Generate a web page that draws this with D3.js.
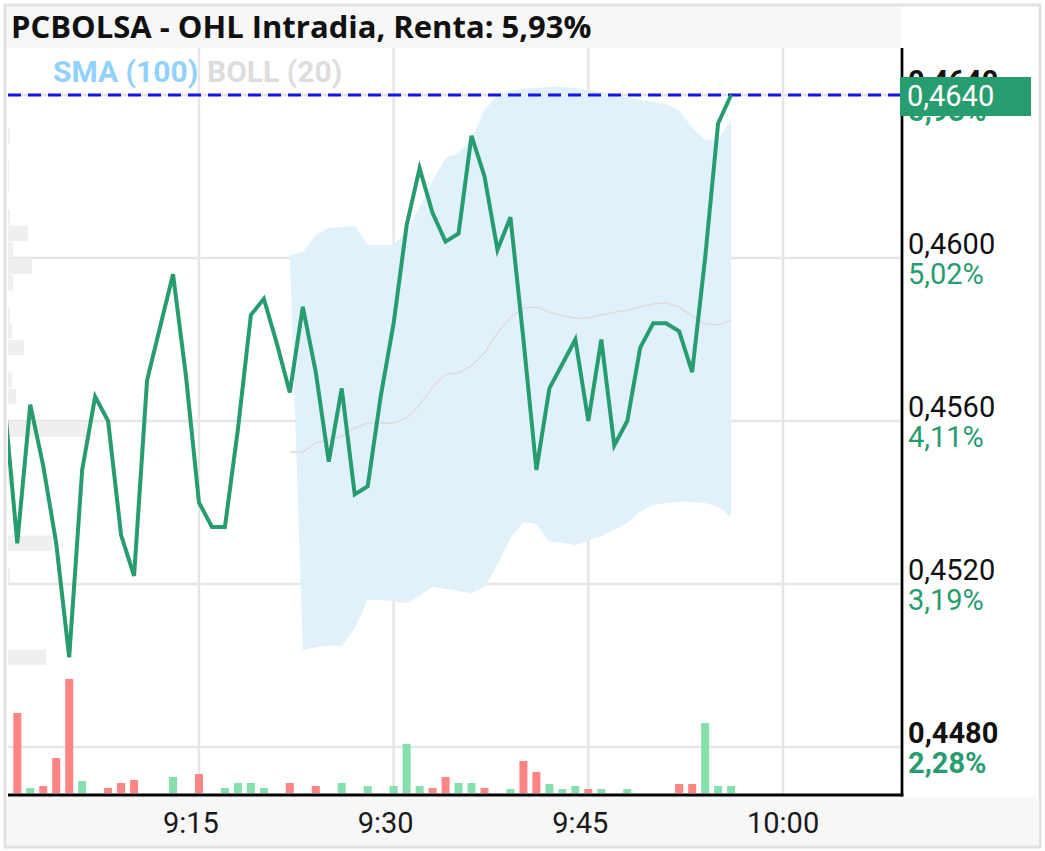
<!DOCTYPE html>
<html>
<head>
<meta charset="utf-8">
<script src="https://cdn.jsdelivr.net/npm/d3@7"></script>
<style>
  body { margin: 0; background: #fff; }
  text { font-family: Roboto, "Noto Sans", sans-serif; }
</style>
</head>
<body>
<div id="chart"></div>
<script>
const title = "PCBOLSA - OHL Intradia, Renta: 5,93%";

// one point per minute, starting 9:00
const startTime = "9:00";
const prices = [0.4565, 0.4530, 0.4564, 0.4549, 0.4530, 0.4502, 0.4548, 0.4566, 0.4560, 0.4532,
                0.4522, 0.4570, 0.4583, 0.4596, 0.4571, 0.4540, 0.4534, 0.4534, 0.4558, 0.4586,
                0.4590, 0.4579, 0.4567, 0.4588, 0.4572, 0.4550, 0.4568, 0.4542, 0.4544, 0.4566,
                0.4584, 0.4608, 0.4622, 0.4611, 0.4604, 0.4606, 0.4630, 0.4620, 0.4602, 0.4610,
                0.4580, 0.4548, 0.4568, 0.4574, 0.4580, 0.4560, 0.4580, 0.4554, 0.4560, 0.4578,
                0.4584, 0.4584, 0.4582, 0.4572, 0.4600, 0.4633, 0.4640];
const volumes = [0, 80000, 5000, 7000, 35000, 114000, 12000, 0, 5000, 10000,
                 13000, 0, 0, 16000, 0, 19000, 0, 5000, 10000, 10000,
                 5000, 0, 10000, 0, 7000, 0, 10000, 0, 7000, 0,
                 7000, 49000, 7000, 5000, 16000, 10000, 10000, 5000, 0, 4000,
                 32000, 21000, 9000, 4000, 7000, 4000, 4000, 0, 4000, 0,
                 0, 0, 9000, 9000, 70000, 7000, 7000];

// bollinger bands: upper / middle from 9:22, lower from 9:23
const bandStart = 22;
const upperBand = [0.46007, 0.46015, 0.46056, 0.46074, 0.46076, 0.46079, 0.46032, 0.46032, 0.46032,
                   0.46066, 0.46125, 0.46189, 0.46245, 0.46258, 0.46290, 0.46363, 0.46398,
                   0.46410, 0.46415, 0.46417, 0.46420, 0.46420, 0.46417, 0.46412, 0.46407, 0.46402,
                   0.46395, 0.46388, 0.46383, 0.46378, 0.46363, 0.46319, 0.46290, 0.46290, 0.46339];
const middleBand = [0.45524, 0.45524, 0.45546, 0.45553, 0.45563, 0.45583, 0.45595, 0.45595, 0.45595,
                    0.45607, 0.45639, 0.45683, 0.45715, 0.45718, 0.45735, 0.45767, 0.45816,
                    0.45853, 0.45877, 0.45880, 0.45867, 0.45858, 0.45853, 0.45853, 0.45860, 0.45867,
                    0.45872, 0.45880, 0.45887, 0.45890, 0.45880, 0.45858, 0.45838, 0.45836, 0.45848];
const lowerBand = [0.45038, 0.45045, 0.45048, 0.45048, 0.45092, 0.45161, 0.45161, 0.45158,
                   0.45153, 0.45171, 0.45193, 0.45188, 0.45183, 0.45178, 0.45193, 0.45247,
                   0.45313, 0.45352, 0.45347, 0.45303, 0.45301, 0.45296, 0.45306, 0.45318, 0.45333,
                   0.45350, 0.45377, 0.45394, 0.45399, 0.45401, 0.45401, 0.45399, 0.45389, 0.45365];

// volume at price (left side profile)
const profileLevels = [0.4630, 0.4622, 0.4618, 0.4610, 0.4606, 0.4602, 0.4598, 0.4594, 0.4586,
                       0.4582, 0.4578, 0.4570, 0.4566, 0.4558, 0.4546, 0.4530, 0.4522, 0.4502];
const profileVolumes = [2000, 1000, 1000, 2000, 20000, 5000, 24000, 5000, 2000,
                        4000, 16000, 4000, 8000, 79000, 7000, 44000, 2000, 38000];

const priceTicks = [0.4480, 0.4520, 0.4560, 0.4600, 0.4640];
const pctLabels = ["2,28%", "3,19%", "4,11%", "5,02%", "5,93%"];
const timeTicks = ["9:15", "9:30", "9:45", "10:00"];
const lastPrice = 0.4640;

const W = 1045, H = 851;
const plot = {left: 8, right: 902, top: 48, bottom: 795};
const green = "#279c6f";

const svg = d3.select("#chart")
    .append("svg")
    .attr("width", W)
    .attr("height", H);

const parseT = d3.timeParse("%H:%M");
const t0 = parseT(startTime);
const times = prices.map((d, i) => d3.timeMinute.offset(t0, i));

const x = d3.scaleTime()
    .domain([t0, parseT("10:00")])
    .range([4.3, 783]);

const y = d3.scaleLinear()
    .domain([0.4480, 0.4640])
    .range([747, 95]);

const yVol = d3.scaleLinear()
    .domain([0, d3.max(volumes)])
    .range([plot.bottom - 2, plot.bottom - 116]);

const xProf = d3.scaleLinear()
    .domain([0, d3.max(profileVolumes)])
    .range([plot.left, plot.left + 79]);

// frame and header / footer strips
svg.append("rect")
    .attr("x", 5).attr("y", 5).attr("width", 1035).attr("height", 842)
    .attr("fill", "#fff").attr("stroke", "#e2e2e2").attr("stroke-width", 3);
svg.append("rect")
    .attr("x", 7).attr("y", 7).attr("width", plot.right - 7).attr("height", plot.top - 7)
    .attr("fill", "#f7f7f7");
svg.append("rect")
    .attr("x", 7).attr("y", plot.bottom + 2).attr("width", 1032).attr("height", H - plot.bottom - 8)
    .attr("fill", "#f7f7f7");

svg.append("text")
    .attr("x", 11).attr("y", 38)
    .style("font-family", "'Open Sans', 'Noto Sans', sans-serif")
    .style("font-size", "31px").style("font-weight", "bold").attr("fill", "#111")
    .text(title);

svg.append("clipPath").attr("id", "clip")
  .append("rect")
    .attr("x", plot.left).attr("y", plot.top)
    .attr("width", plot.right - plot.left).attr("height", plot.bottom - plot.top);

const g = svg.append("g").attr("clip-path", "url(#clip)");

// grid
g.append("g").selectAll("line")
  .data(priceTicks)
  .join("line")
    .attr("x1", plot.left).attr("x2", plot.right)
    .attr("y1", d => y(d)).attr("y2", d => y(d))
    .attr("stroke", "#e6e6e6").attr("stroke-width", 2.5);

g.append("g").selectAll("line")
  .data(timeTicks)
  .join("line")
    .attr("x1", d => x(parseT(d))).attr("x2", d => x(parseT(d)))
    .attr("y1", plot.top).attr("y2", plot.bottom)
    .attr("stroke", "#e6e6e6").attr("stroke-width", 2.5);

// volume profile
g.append("g").selectAll("rect")
  .data(profileLevels)
  .join("rect")
    .attr("x", plot.left)
    .attr("y", d => y(d + 0.00019))
    .attr("width", (d, i) => xProf(profileVolumes[i]) - plot.left)
    .attr("height", d => y(d - 0.00019) - y(d + 0.00019))
    .attr("fill", "#efefef");

// bollinger fill
const upperPts = upperBand.map((v, i) => [times[bandStart + i], v]);
const lowerPts = lowerBand.map((v, i) => [times[bandStart + 1 + i], v]).reverse();
g.append("path")
    .datum(upperPts.concat(lowerPts))
    .attr("d", d3.line().x(d => x(d[0])).y(d => y(d[1])).curve(d3.curveLinearClosed))
    .attr("fill", "#e1f1fc");

g.append("path")
    .datum(middleBand.map((v, i) => [times[bandStart + i], v]))
    .attr("d", d3.line().x(d => x(d[0])).y(d => y(d[1])))
    .attr("fill", "none").attr("stroke", "#e0d9d9").attr("stroke-width", 1.5);

// volume bars
g.append("g").selectAll("rect")
  .data(volumes)
  .join("rect")
    .attr("x", (d, i) => x(times[i]) - 4)
    .attr("y", d => yVol(d))
    .attr("width", 8)
    .attr("height", d => yVol(0) - yVol(d))
    .attr("fill", (d, i) => (i > 0 && prices[i] < prices[i - 1]) ? "#ff8585" : "#86e0ad");

// last price dashed line
g.append("line")
    .attr("x1", plot.left).attr("x2", plot.right)
    .attr("y1", y(lastPrice)).attr("y2", y(lastPrice))
    .attr("stroke", "#1414f0").attr("stroke-width", 3)
    .attr("stroke-dasharray", "13,7");

// price line
g.append("path")
    .datum(prices)
    .attr("d", d3.line().x((d, i) => x(times[i])).y(d => y(d)))
    .attr("fill", "none").attr("stroke", green).attr("stroke-width", 4)
    .attr("stroke-linejoin", "miter");

// legend
svg.append("text").attr("x", 53).attr("y", 82)
    .style("font-size", "30px").style("font-weight", "bold").attr("fill", "#92d1fa")
    .text("SMA (100)");
svg.append("text").attr("x", 207).attr("y", 82)
    .style("font-size", "30px").style("font-weight", "bold").attr("fill", "#dddddd")
    .text("BOLL (20)");

// axis lines
svg.append("line")
    .attr("x1", plot.right).attr("x2", plot.right)
    .attr("y1", plot.top).attr("y2", plot.bottom + 1.5)
    .attr("stroke", "#000").attr("stroke-width", 2.7);
svg.append("line")
    .attr("x1", plot.left).attr("x2", plot.right + 1.3)
    .attr("y1", plot.bottom).attr("y2", plot.bottom)
    .attr("stroke", "#000").attr("stroke-width", 3);

// right labels
const fmt = d => d3.format(".4f")(d).replace(".", ",");
const last = priceTicks.length - 1;
svg.append("g").selectAll("text")
  .data(priceTicks)
  .join("text")
    .attr("x", 908).attr("y", d => y(d) - 4)
    .style("font-size", "29px")
    .style("font-weight", (d, i) => (i === 0 || i === last) ? "bold" : "normal")
    .attr("fill", "#111")
    .text(fmt);
svg.append("g").selectAll("text")
  .data(priceTicks)
  .join("text")
    .attr("x", 908).attr("y", d => y(d) + 26)
    .style("font-size", "29px")
    .style("font-weight", (d, i) => (i === 0 || i === last) ? "bold" : "normal")
    .attr("fill", green)
    .text((d, i) => pctLabels[i]);

// last price box
svg.append("rect")
    .attr("x", 900).attr("y", y(lastPrice) - 18)
    .attr("width", 131).attr("height", 39)
    .attr("fill", "#279c6f");
svg.append("text")
    .attr("x", 907).attr("y", y(lastPrice) + 11)
    .style("font-size", "29px").attr("fill", "#fff")
    .text(fmt(lastPrice));

// time labels
svg.append("g").selectAll("text")
  .data(timeTicks)
  .join("text")
    .attr("x", d => x(parseT(d)) - 36).attr("y", 833)
    .style("font-size", "29px").attr("fill", "#1a1a1a")
    .text(d => d);
</script>
</body>
</html>
